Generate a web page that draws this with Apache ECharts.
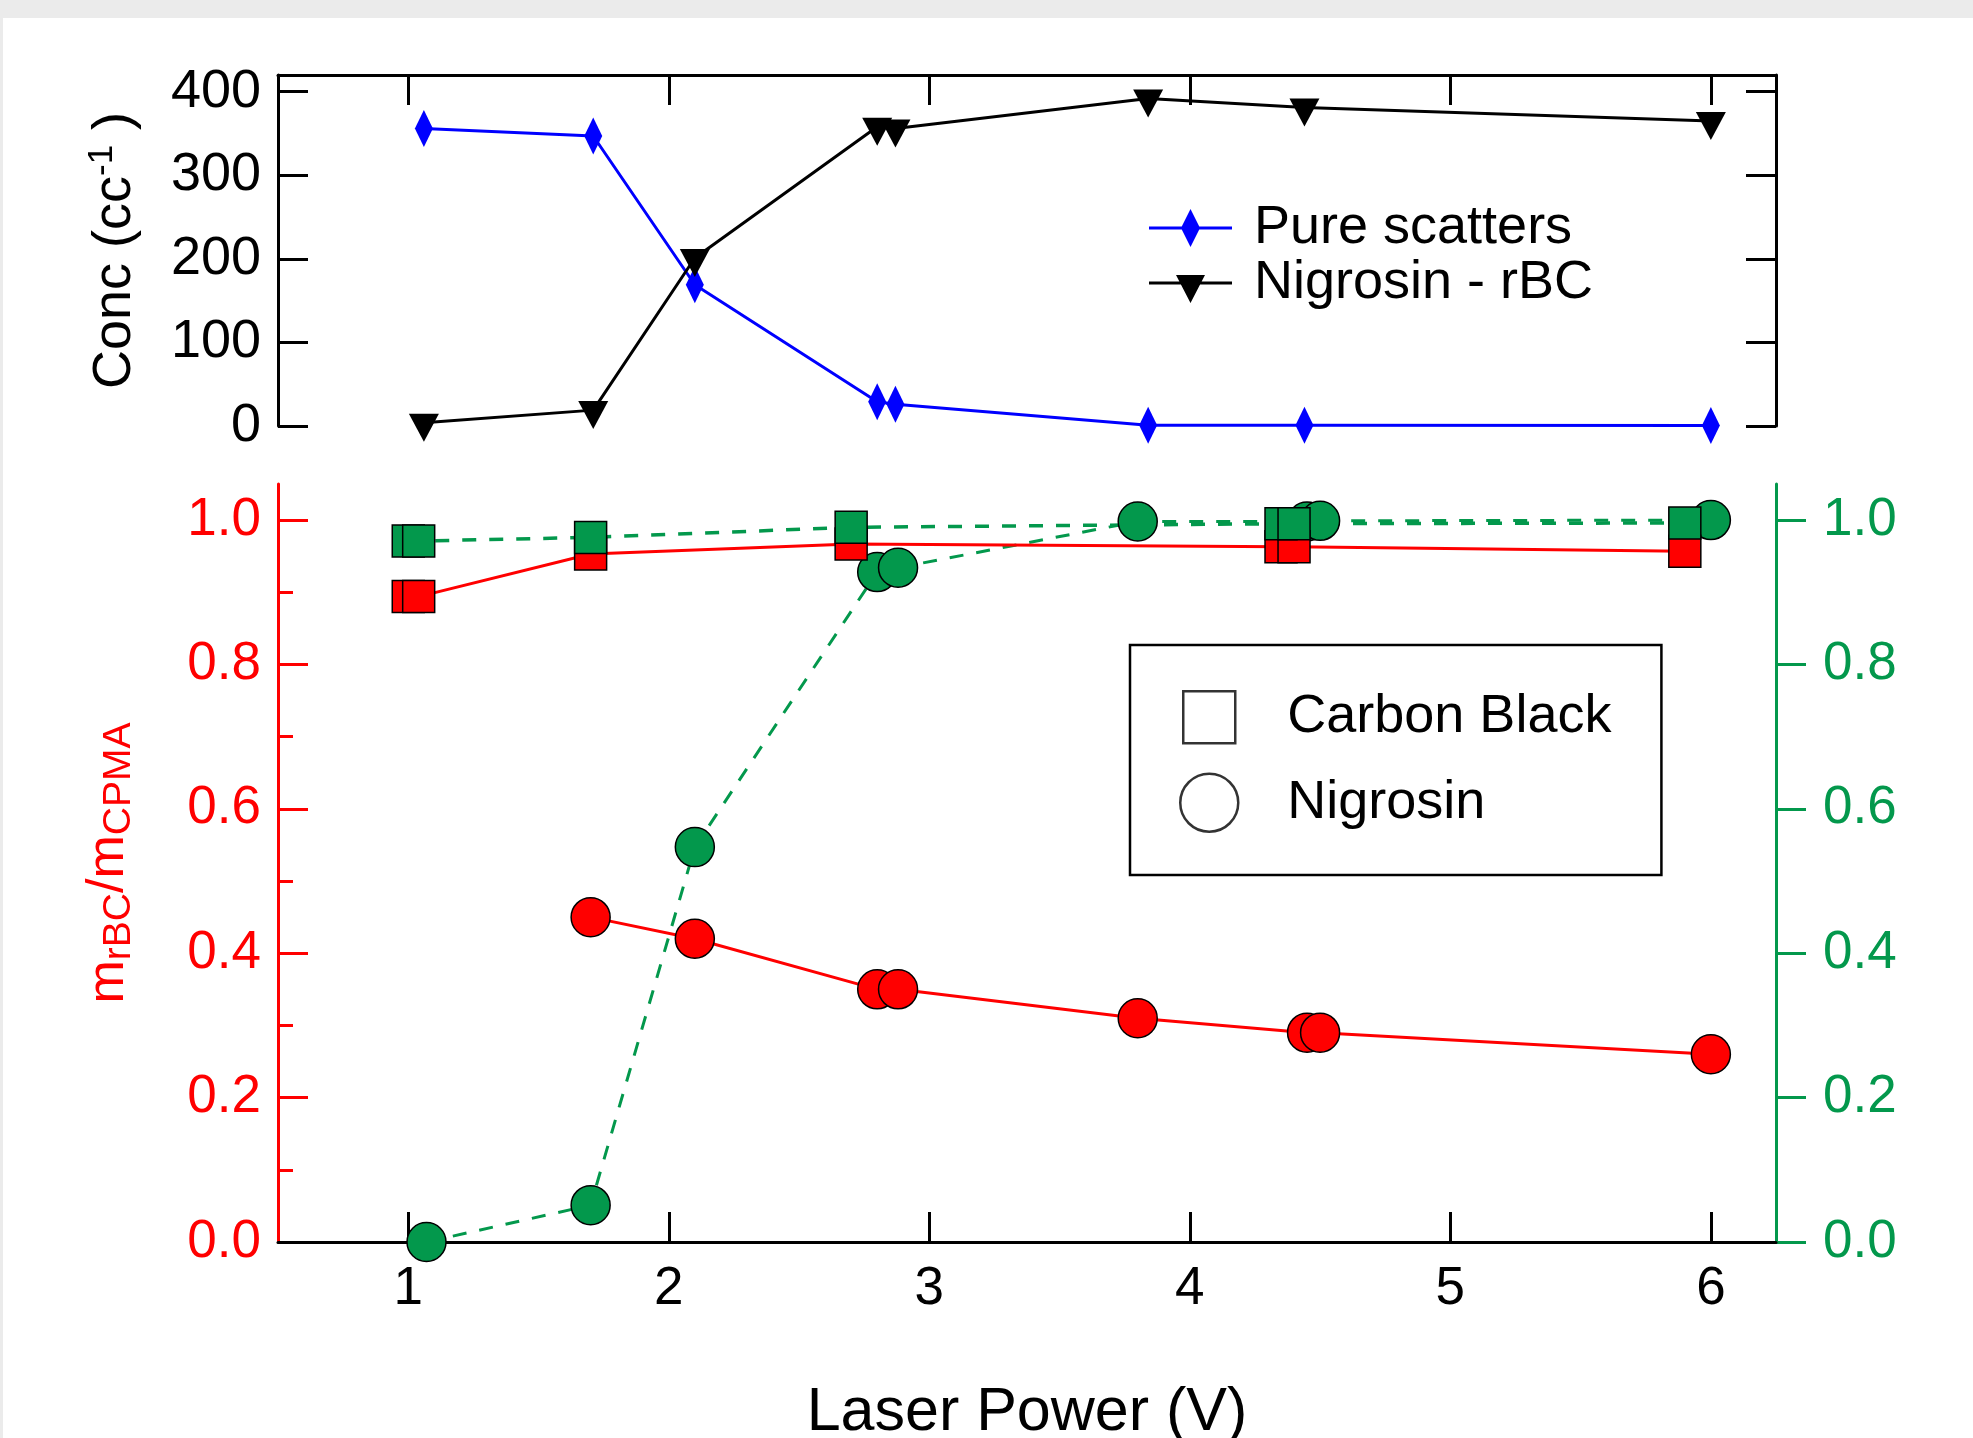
<!DOCTYPE html>
<html>
<head>
<meta charset="utf-8">
<title>Laser power scan</title>
<script src="https://cdn.jsdelivr.net/npm/echarts@6/dist/echarts.min.js"></script>
<style>
  html, body { margin: 0; padding: 0; background: #ebebeb; }
  #chart { position: absolute; left: 3px; top: 18px; width: 1970px; height: 1420px; background: #fff; }
</style>
</head>
<body>
<div id="chart"></div>
<script>
// top panel: number concentration vs laser power
const concX = [1.06, 1.71, 2.10, 2.80, 2.87, 3.84, 4.44, 6.00];
const pureScatters = [356, 347, 169, 29, 26, 1, 1, 0.5];
const nigrosinRbc = [4, 19, 201, 358, 356, 392, 381, 365];

// bottom panel: mass ratios (red = left axis, green = right axis)
const carbonBlackX = [1.00, 1.04, 1.70, 2.70, 4.35, 4.40, 5.90];
const carbonBlackRed = [0.894, 0.894, 0.953, 0.967, 0.963, 0.963, 0.957];
const carbonBlackGreen = [0.971, 0.971, 0.976, 0.990, 0.995, 0.995, 0.996];

const nigrosinX = [1.07, 1.70, 2.10, 2.80, 2.88, 3.80, 4.45, 4.50, 6.00];
const nigrosinRed = [null, 0.45, 0.42, 0.35, 0.35, 0.31, 0.29, 0.29, 0.26];
const nigrosinGreen = [0.0, 0.051, 0.547, 0.928, 0.934, 0.998, 0.998, 0.999, 1.0];

const xTicks = [1, 2, 3, 4, 5, 6];
const concTicks = [0, 100, 200, 300, 400];
const ratioTicks = [0, 0.2, 0.4, 0.6, 0.8, 1.0];
const ratioMinorTicks = [0.1, 0.3, 0.5, 0.7, 0.9];

const FONT = '"Liberation Sans", Arial, sans-serif';
const RED = '#ff0000';
const GREEN = '#03984c';
const BLUE = '#0000ff';

// legend icons (line sample + marker)
const DIAMOND_ICON = 'path://M0,0M83,40M0,18.5L83,18.5L83,21.5L0,21.5ZM41.5,1L51,20L41.5,39L32,20Z';
const TRIANGLE_ICON = 'path://M0,0M83,40M0,18.5L83,18.5L83,21.5L0,21.5ZM27,12L56,12L41.5,40Z';
const SQUARE_ICON = 'path://M0,0M62,58M5,3L57,3L57,55L5,55Z';

function pairs(xs, ys) {
    return xs.map((x, i) => [x, ys[i]]).filter(p => p[1] != null);
}

function renderChart() {
    let myChart = echarts.init(document.getElementById('chart'));

    const frameLine = (color) => ({ show: true, onZero: false, lineStyle: { color: color, width: 3 } });

    let option = {
        animation: false,
        grid: [
            { left: 275, top: 57, width: 1498, height: 351, outerBoundsMode: 'none' },
            { left: 275, top: 466, width: 1498, height: 758, outerBoundsMode: 'none' }
        ],
        legend: [
            {
                data: [
                    { name: 'Pure scatters', icon: DIAMOND_ICON },
                    { name: 'Nigrosin - rBC', icon: TRIANGLE_ICON }
                ],
                orient: 'vertical',
                left: 1146,
                top: 183,
                padding: 0,
                itemWidth: 83,
                itemHeight: 40,
                itemGap: 1,
                selectedMode: false,
                textStyle: { fontSize: 54, color: '#000', fontFamily: FONT, padding: [0, 0, 0, 17] }
            },
            {
                data: [
                    { name: 'Carbon Black', icon: SQUARE_ICON },
                    { name: 'Nigrosin', icon: 'circle' }
                ],
                orient: 'vertical',
                left: 1127,
                top: 627,
                padding: [42, 50, 42, 47],
                itemWidth: 62,
                itemHeight: 58,
                itemGap: 25,
                borderColor: '#000',
                borderWidth: 2.5,
                selectedMode: false,
                itemStyle: { color: 'rgba(0,0,0,0)', borderColor: '#000', borderWidth: 2.5 },
                textStyle: { fontSize: 54, color: '#000', fontFamily: FONT, padding: [0, 0, 0, 42] }
            }
        ],
        xAxis: [
            {
                gridIndex: 0,
                type: 'value',
                position: 'top',
                min: 0.5,
                max: 6.25,
                axisLine: frameLine('#000'),
                axisTick: { inside: true, length: 30, lineStyle: { width: 3 }, customValues: xTicks },
                axisLabel: { show: false },
                splitLine: { show: false }
            },
            {
                gridIndex: 1,
                type: 'value',
                position: 'bottom',
                min: 0.5,
                max: 6.25,
                z: 3,
                axisLine: frameLine('#000'),
                axisTick: { inside: true, length: 30, lineStyle: { width: 3 }, customValues: xTicks },
                axisLabel: { customValues: xTicks, fontSize: 53, color: '#000', fontFamily: FONT, margin: 21 },
                splitLine: { show: false },
                name: 'Laser Power (V)',
                nameLocation: 'middle',
                nameGap: 141,
                nameTextStyle: { fontSize: 61, lineHeight: 61, color: '#000', fontFamily: FONT }
            }
        ],
        yAxis: [
            {
                gridIndex: 0,
                type: 'value',
                position: 'left',
                min: 0,
                max: 420,
                axisLine: frameLine('#000'),
                axisTick: { show: true, inside: true, length: 30, lineStyle: { width: 3 }, customValues: concTicks },
                axisLabel: { customValues: concTicks, fontSize: 54, color: '#000', fontFamily: FONT, margin: 17 },
                splitLine: { show: false },
                name: 'Conc (cc{sup|-1} )',
                nameLocation: 'middle',
                nameRotate: 90,
                nameGap: 133,
                nameTextStyle: {
                    fontSize: 54, lineHeight: 60, color: '#000', fontFamily: FONT,
                    rich: { sup: { fontSize: 35, lineHeight: 8, verticalAlign: 'top', color: '#000', fontFamily: FONT } }
                }
            },
            {
                gridIndex: 0,
                type: 'value',
                position: 'right',
                min: 0,
                max: 420,
                axisLine: frameLine('#000'),
                axisTick: { show: true, inside: true, length: 30, lineStyle: { width: 3 }, customValues: concTicks },
                axisLabel: { show: false },
                splitLine: { show: false }
            },
            {
                gridIndex: 1,
                type: 'value',
                position: 'left',
                min: 0,
                max: 1.05,
                axisLine: frameLine(RED),
                axisTick: { show: true, inside: true, length: 30, lineStyle: { width: 3 }, customValues: ratioTicks },
                axisLabel: {
                    customValues: ratioTicks, fontSize: 53, color: RED, fontFamily: FONT, margin: 17,
                    formatter: v => v.toFixed(1)
                },
                splitLine: { show: false },
                name: '{m|m}{sub|rBC}{m|/m}{sub|CPMA}',
                nameLocation: 'middle',
                nameRotate: 90,
                nameGap: 139,
                nameTextStyle: {
                    fontSize: 52, lineHeight: 60, color: RED, fontFamily: FONT,
                    rich: {
                        m: { fontSize: 52, lineHeight: 60, color: RED, fontFamily: FONT },
                        sub: { fontSize: 39, lineHeight: 27, verticalAlign: 'bottom', color: RED, fontFamily: FONT }
                    }
                }
            },
            {
                gridIndex: 1,
                type: 'value',
                position: 'right',
                min: 0,
                max: 1.05,
                axisLine: frameLine(GREEN),
                axisTick: { show: true, inside: false, length: 30, lineStyle: { width: 3 }, customValues: ratioTicks },
                axisLabel: {
                    customValues: ratioTicks, fontSize: 53, color: GREEN, fontFamily: FONT, margin: 47,
                    formatter: v => v.toFixed(1)
                },
                splitLine: { show: false }
            },
            {
                // minor ticks of the red axis
                gridIndex: 1,
                type: 'value',
                position: 'left',
                min: 0,
                max: 1.05,
                axisLine: { show: false, onZero: false },
                axisTick: { show: true, inside: true, length: 15, lineStyle: { color: RED, width: 3 }, customValues: ratioMinorTicks },
                axisLabel: { show: false },
                splitLine: { show: false }
            }
        ],
        series: [
            {
                name: 'Pure scatters',
                type: 'line',
                xAxisIndex: 0,
                yAxisIndex: 0,
                data: pairs(concX, pureScatters),
                symbol: 'diamond',
                symbolSize: [18, 37],
                clip: false,
                itemStyle: { color: BLUE },
                lineStyle: { color: BLUE, width: 3 }
            },
            {
                name: 'Nigrosin - rBC',
                type: 'line',
                xAxisIndex: 0,
                yAxisIndex: 0,
                data: pairs(concX, nigrosinRbc),
                symbol: 'triangle',
                symbolRotate: 180,
                symbolSize: [30, 28],
                symbolOffset: [0, 5],
                clip: false,
                itemStyle: { color: '#000' },
                lineStyle: { color: '#000', width: 3 }
            },
            {
                name: 'Nigrosin mrBC',
                type: 'line',
                xAxisIndex: 1,
                yAxisIndex: 2,
                data: pairs(nigrosinX, nigrosinRed),
                symbol: 'circle',
                symbolSize: 39,
                clip: false,
                itemStyle: { color: RED, borderColor: '#000', borderWidth: 1.5 },
                lineStyle: { color: RED, width: 3 }
            },
            {
                name: 'Nigrosin green',
                type: 'line',
                xAxisIndex: 1,
                yAxisIndex: 3,
                data: pairs(nigrosinX, nigrosinGreen),
                symbol: 'circle',
                symbolSize: 39,
                clip: false,
                itemStyle: { color: GREEN, borderColor: '#000', borderWidth: 1.5 },
                lineStyle: { color: GREEN, width: 3, type: [14, 13] }
            },
            {
                name: 'Carbon Black mrBC',
                type: 'line',
                xAxisIndex: 1,
                yAxisIndex: 2,
                data: pairs(carbonBlackX, carbonBlackRed),
                symbol: 'rect',
                symbolSize: 32,
                clip: false,
                itemStyle: { color: RED, borderColor: '#000', borderWidth: 1.5 },
                lineStyle: { color: RED, width: 3 }
            },
            {
                name: 'Carbon Black green',
                type: 'line',
                xAxisIndex: 1,
                yAxisIndex: 3,
                data: pairs(carbonBlackX, carbonBlackGreen),
                symbol: 'rect',
                symbolSize: 32,
                clip: false,
                itemStyle: { color: GREEN, borderColor: '#000', borderWidth: 1.5 },
                lineStyle: { color: GREEN, width: 3.5, type: [14, 13] }
            },
            // legend-only entries for the marker shapes
            { name: 'Carbon Black', type: 'scatter', xAxisIndex: 1, yAxisIndex: 2, data: [] },
            { name: 'Nigrosin', type: 'scatter', xAxisIndex: 1, yAxisIndex: 2, data: [] }
        ]
    };

    option && myChart.setOption(option);
}

renderChart();
</script>
</body>
</html>
